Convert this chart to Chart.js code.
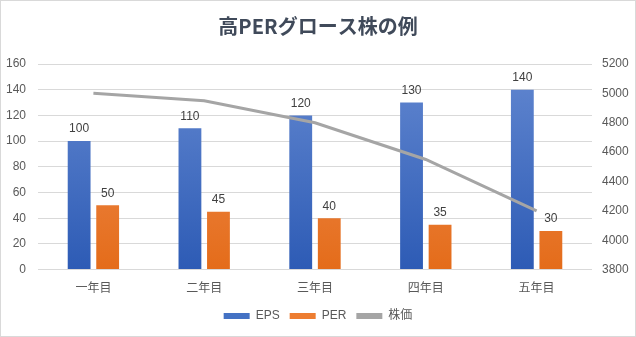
<!DOCTYPE html>
<html>
<head>
<meta charset="utf-8">
<script src="https://cdn.jsdelivr.net/npm/chart.js@4/dist/chart.umd.min.js"></script>
<style>
  html, body { margin: 0; padding: 0; background: #fff; }
  #wrap { width: 636px; height: 337px; box-sizing: border-box; border: 1px solid #d9d9d9; }
</style>
</head>
<body>
<div id="wrap"><canvas id="chartGrowth"></canvas></div>
<script>
var years = ['一年目', '二年目', '三年目', '四年目', '五年目'];
var eps = [100, 110, 120, 130, 140];
var per = [50, 45, 40, 35, 30];
var stockPrice = [5000, 4950, 4800, 4550, 4200];

var FONT = '"Liberation Sans", "Noto Sans CJK JP", sans-serif';

// vertical gradient for the bars, lighter at the top
function barGradient(top, bottom) {
    return function (context) {
        var area = context.chart.chartArea;
        if (!area) return bottom;
        var g = context.chart.ctx.createLinearGradient(0, area.top, 0, area.bottom);
        g.addColorStop(0, top);
        g.addColorStop(1, bottom);
        return g;
    };
}

// value labels above the bars
var barValues = {
    id: 'barValues',
    afterDatasetsDraw: function (chart) {
        var c = chart.ctx;
        c.save();
        c.font = '12px ' + FONT;
        c.fillStyle = '#404040';
        c.textAlign = 'center';
        c.textBaseline = 'bottom';
        chart.data.datasets.forEach(function (ds, i) {
            if (ds.type !== 'bar') return;
            chart.getDatasetMeta(i).data.forEach(function (bar, j) {
                c.fillText(ds.data[j], bar.x, bar.y - 6);
            });
        });
        c.restore();
    }
};

var ctx = document.getElementById('chartGrowth');
var growthChart = new Chart(ctx, {
    data: {
        labels: years,
        datasets: [{
            type: 'line',
            label: '株価',
            data: stockPrice,
            yAxisID: 'y1',
            borderColor: '#a5a5a5',
            backgroundColor: '#a5a5a5',
            borderWidth: 3,
            pointRadius: 0,
            tension: 0,
            order: 0
        }, {
            type: 'bar',
            label: 'EPS',
            data: eps,
            yAxisID: 'y',
            backgroundColor: barGradient('#6287d0', '#2d5bb5'),
            categoryPercentage: 0.515,
            barPercentage: 0.8,
            order: 1
        }, {
            type: 'bar',
            label: 'PER',
            data: per,
            yAxisID: 'y',
            backgroundColor: barGradient('#f1925a', '#e46c1a'),
            categoryPercentage: 0.515,
            barPercentage: 0.8,
            order: 1
        }]
    },
    options: {
        responsive: true,
        maintainAspectRatio: false,
        animation: false,
        layout: { padding: { left: 0, right: 0, top: 0, bottom: 4 } },
        plugins: {
            title: {
                display: true,
                text: '高PERグロース株の例',
                color: '#404a5a',
                font: { family: '"Noto Sans CJK JP", sans-serif', size: 20, weight: 'bold' },
                padding: { top: 13, bottom: 26 }
            },
            legend: {
                position: 'bottom',
                labels: {
                    color: '#595959',
                    font: { family: FONT, size: 12 },
                    boxWidth: 26,
                    boxHeight: 6,
                    padding: 10,
                    generateLabels: function (chart) {
                        var order = [1, 2, 0];
                        var fills = ['#a5a5a5', '#4472c4', '#ed7d31'];
                        return order.map(function (i) {
                            return {
                                text: chart.data.datasets[i].label,
                                fillStyle: fills[i],
                                strokeStyle: fills[i],
                                lineWidth: 0,
                                fontColor: '#595959',
                                datasetIndex: i
                            };
                        });
                    }
                }
            },
            tooltip: { enabled: false }
        },
        scales: {
            x: {
                grid: { display: false },
                border: { display: false },
                ticks: { color: '#595959', font: { family: FONT, size: 12 }, padding: 4 }
            },
            y: {
                position: 'left',
                min: 0,
                max: 160,
                ticks: { stepSize: 20, color: '#595959', font: { family: FONT, size: 12 }, padding: 12 },
                grid: { color: '#d9d9d9', drawTicks: false },
                border: { display: false },
                afterFit: function (s) { s.width = 37; }
            },
            y1: {
                position: 'right',
                min: 3800,
                max: 5200,
                ticks: {
                    stepSize: 200,
                    color: '#595959',
                    font: { family: FONT, size: 12 },
                    padding: 10,
                    callback: function (v) { return String(v); }
                },
                grid: { display: false, drawTicks: false },
                border: { display: false },
                afterFit: function (s) { s.width = 43; }
            }
        }
    },
    plugins: [barValues]
});
</script>
</body>
</html>
